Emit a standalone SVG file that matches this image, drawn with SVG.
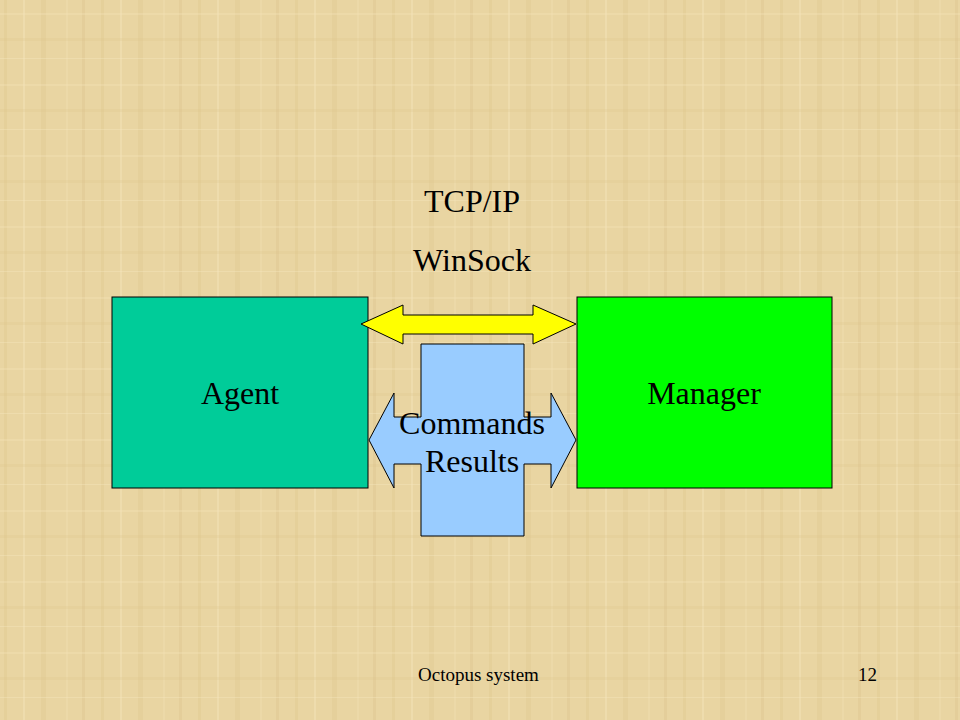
<svg xmlns="http://www.w3.org/2000/svg" width="960" height="720" viewBox="0 0 960 720">
<defs>
<pattern id="papyrus" width="97" height="71" patternUnits="userSpaceOnUse">
<rect width="97" height="71" fill="#E9D5A2"/>
<rect x="4" y="0" width="3" height="71" fill="#DCC48C" opacity="0.35"/>
<rect x="23" y="0" width="2" height="71" fill="#F3E3B8" opacity="0.5"/>
<rect x="41" y="0" width="5" height="71" fill="#D8BF88" opacity="0.25"/>
<rect x="66" y="0" width="2" height="71" fill="#F1DFB0" opacity="0.45"/>
<rect x="82" y="0" width="3" height="71" fill="#DABF8A" opacity="0.3"/>
<rect x="0" y="13" width="97" height="2" fill="#F2E2B6" opacity="0.35"/>
<rect x="0" y="38" width="97" height="3" fill="#DAC28A" opacity="0.25"/>
<rect x="0" y="58" width="97" height="1" fill="#F4E6BE" opacity="0.4"/>
</pattern>
<style>
.box{stroke:#000;stroke-width:1}
.lbl{font-family:"Liberation Serif","Times New Roman",serif;font-size:32px;fill:#000;text-anchor:middle}
.foot{font-family:"Liberation Serif","Times New Roman",serif;font-size:19px;fill:#000}
</style>
</defs>
<rect width="960" height="720" fill="url(#papyrus)"/>
<g id="agent">
<rect class="box" x="112" y="297" width="256" height="191" fill="#00CC99"/>
<text class="lbl" x="240" y="404">Agent</text>
</g>
<g id="manager">
<rect class="box" x="577" y="297" width="255" height="191" fill="#00FF00"/>
<text class="lbl" x="704" y="404">Manager</text>
</g>
<g id="connectors">
<g id="tcpip-arrow">
<polygon class="box" fill="#FFFF00" points="361,324 403,305 403,315 533,315 533,305 576,324 533,344 533,334 403,334 403,344"/>
</g>
<g id="commands-arrow">
<polygon class="box" fill="#99CCFF" points="369,440 394,393 394,417 421,417 421,344 524,344 524,417 551,417 551,393 576,440 551,488 551,464 524,464 524,536 421,536 421,464 394,464 394,488"/>
<text class="lbl" x="472" y="434">Commands</text>
<text class="lbl" x="472" y="472">Results</text>
</g>
</g>
<g id="labels">
<text class="lbl" x="472" y="212">TCP/IP</text>
<text class="lbl" x="472" y="271">WinSock</text>
</g>
<g id="footer">
<text class="foot" x="418" y="681">Octopus system</text>
<text class="foot" x="877" y="681" text-anchor="end">12</text>
</g>
</svg>
